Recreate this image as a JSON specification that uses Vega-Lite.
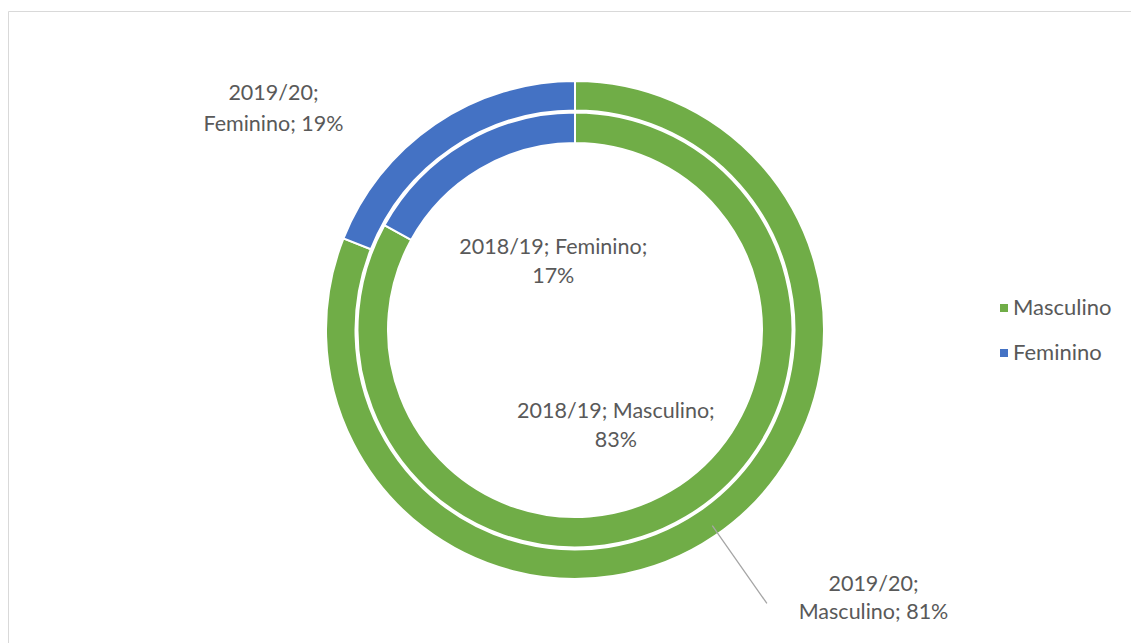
{
  "$schema": "https://vega.github.io/schema/vega-lite/v6.json",
  "width": 1134,
  "height": 638,
  "autosize": "none",
  "padding": {"left": 8, "top": 11, "right": 0, "bottom": 0},
  "background": "white",
  "view": {"stroke": "#d9d9d9", "strokeWidth": 1},
  "config": {
    "font": "Lato",
    "legend": {"labelFont": "Lato", "labelFontSize": 22, "labelColor": "#595959", "symbolType": "square", "symbolSize": 64, "symbolStrokeWidth": 0, "rowPadding": 23, "labelOffset": -2}
  },
  "resolve": {"scale": {"theta": "independent"}},
  "data": {
    "values": [
      {"ano": "2019/20", "genero": "Masculino", "pct": 81, "ordem": 1, "rotulo": "2019/20;\nMasculino; 81%"},
      {"ano": "2019/20", "genero": "Feminino", "pct": 19, "ordem": 2, "rotulo": "2019/20;\nFeminino; 19%"},
      {"ano": "2018/19", "genero": "Masculino", "pct": 83, "ordem": 1, "rotulo": "2018/19; Masculino;\n83%"},
      {"ano": "2018/19", "genero": "Feminino", "pct": 17, "ordem": 2, "rotulo": "2018/19; Feminino;\n17%"}
    ]
  },
  "layer": [
    {
      "transform": [{"filter": "datum.ano == '2019/20'"}],
      "mark": {"type": "arc", "radius": 249, "radius2": 219.5, "stroke": "white", "strokeWidth": 2},
      "encoding": {
        "theta": {"field": "pct", "type": "quantitative", "stack": true},
        "order": {"field": "ordem", "type": "quantitative"},
        "color": {"field": "genero", "type": "nominal", "scale": {"domain": ["Masculino", "Feminino"], "range": ["#70AD47", "#4472C4"]}, "legend": {"title": null, "orient": "none", "legendX": 985, "legendY": 286}}
      }
    },
    {
      "transform": [{"filter": "datum.ano == '2018/19'"}],
      "mark": {"type": "arc", "radius": 217.5, "radius2": 187, "stroke": "white", "strokeWidth": 2},
      "encoding": {
        "theta": {"field": "pct", "type": "quantitative", "stack": true},
        "order": {"field": "ordem", "type": "quantitative"},
        "color": {"field": "genero", "type": "nominal"}
      }
    },
    {
      "transform": [{"filter": "datum.ano == '2019/20' && datum.genero == 'Masculino'"}],
      "mark": {"type": "arc", "radius": 334, "radius2": 239, "fill": null, "stroke": "#a6a6a6", "strokeWidth": 1.3},
      "encoding": {
        "theta": {"field": "pct", "type": "quantitative", "stack": null, "scale": {"domain": [0, 200], "range": [-0.015, 6.268]}},
        "theta2": {"field": "pct"}
      }
    },
    {
      "transform": [{"filter": "datum.ano == '2019/20'"}],
      "mark": {"type": "text", "radius": 234, "dx": -170, "dy": -42, "align": "center", "baseline": "middle", "lineBreak": "\n", "lineHeight": 31, "fontSize": 21.5, "color": "#595959"},
      "encoding": {
        "theta": {"field": "pct", "type": "quantitative", "stack": true},
        "order": {"field": "ordem", "type": "quantitative"},
        "detail": {"field": "genero"},
        "text": {"condition": {"test": "datum.genero == 'Feminino'", "field": "rotulo"}, "value": ""}
      }
    },
    {
      "transform": [{"filter": "datum.ano == '2019/20'"}],
      "mark": {"type": "text", "radius": 234, "dx": 167, "dy": 61, "align": "center", "baseline": "middle", "lineBreak": "\n", "lineHeight": 28, "fontSize": 21.5, "color": "#595959"},
      "encoding": {
        "theta": {"field": "pct", "type": "quantitative", "stack": true},
        "order": {"field": "ordem", "type": "quantitative"},
        "detail": {"field": "genero"},
        "text": {"condition": {"test": "datum.genero == 'Masculino'", "field": "rotulo"}, "value": ""}
      }
    },
    {
      "transform": [{"filter": "datum.ano == '2018/19'"}],
      "mark": {"type": "text", "radius": 80, "dx": 19, "dy": -13, "align": "center", "baseline": "middle", "lineBreak": "\n", "lineHeight": 29, "fontSize": 21.5, "color": "#595959"},
      "encoding": {
        "theta": {"field": "pct", "type": "quantitative", "stack": true},
        "order": {"field": "ordem", "type": "quantitative"},
        "detail": {"field": "genero"},
        "text": {"condition": {"test": "datum.genero == 'Feminino'", "field": "rotulo"}, "value": ""}
      }
    },
    {
      "transform": [{"filter": "datum.ano == '2018/19'"}],
      "mark": {"type": "text", "radius": 100, "dx": -10, "dy": -4, "align": "center", "baseline": "middle", "lineBreak": "\n", "lineHeight": 29, "fontSize": 21.5, "color": "#595959"},
      "encoding": {
        "theta": {"field": "pct", "type": "quantitative", "stack": true},
        "order": {"field": "ordem", "type": "quantitative"},
        "detail": {"field": "genero"},
        "text": {"condition": {"test": "datum.genero == 'Masculino'", "field": "rotulo"}, "value": ""}
      }
    }
  ]
}
